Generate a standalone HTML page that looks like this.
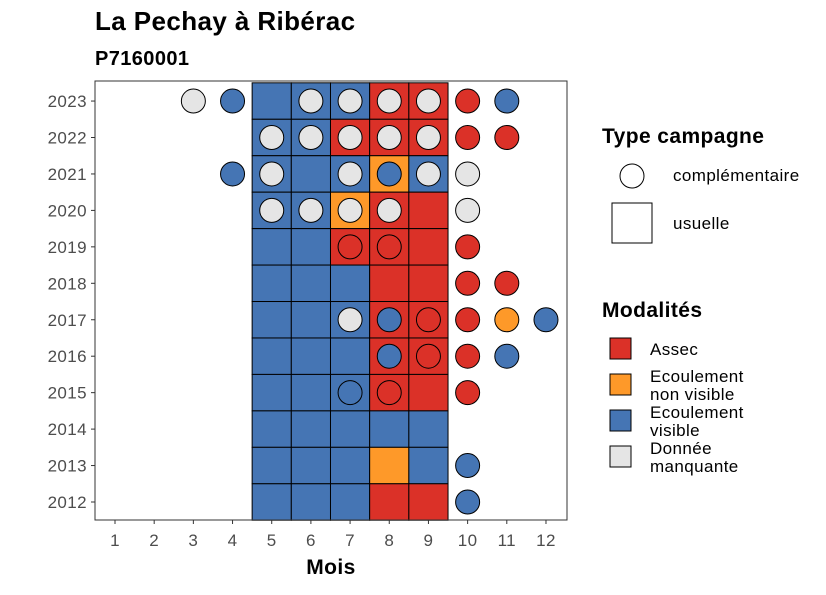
<!DOCTYPE html>
<html><head><meta charset="utf-8">
<style>
body{margin:0;background:#fff;}
svg text{font-family:"Liberation Sans",sans-serif;letter-spacing:0.4px;}
</style></head>
<body>
<svg id="chart" width="826" height="590" xmlns="http://www.w3.org/2000/svg">
<text x="95" y="30" font-size="26" font-weight="bold" fill="#000">La Pechay à Ribérac</text>
<text x="95" y="65" font-size="20" font-weight="bold" fill="#000">P7160001</text>
<g id="tiles"></g><g id="pts"></g><g id="axes"></g>
<rect x="95" y="81" width="472" height="439" fill="none" stroke="#333" stroke-width="1"/>
<text x="331" y="574" font-size="21" font-weight="bold" text-anchor="middle">Mois</text>
<g>
<text x="602" y="143" font-size="21" font-weight="bold">Type campagne</text>
<circle cx="632" cy="176" r="12" fill="#fff" stroke="#000"/>
<text x="673" y="181" font-size="17">complémentaire</text>
<rect x="612" y="203" width="40" height="40" fill="#fff" stroke="#000"/>
<text x="673" y="229" font-size="17">usuelle</text>
</g>
<g>
<text x="602" y="317" font-size="21" font-weight="bold">Modalités</text>
<rect x="610" y="338" width="21" height="21" fill="#db3128" stroke="#000"/>
<text x="650" y="355" font-size="17">Assec</text>
<rect x="610" y="374" width="21" height="21" fill="#fe9929" stroke="#000"/>
<text x="650" y="382" font-size="17">Ecoulement</text><text x="650" y="400" font-size="17">non visible</text>
<rect x="610" y="410" width="21" height="21" fill="#4575b4" stroke="#000"/>
<text x="650" y="418" font-size="17">Ecoulement</text><text x="650" y="436" font-size="17">visible</text>
<rect x="610" y="446" width="21" height="21" fill="#e5e5e5" stroke="#000"/>
<text x="650" y="454" font-size="17">Donnée</text><text x="650" y="472" font-size="17">manquante</text>
</g>
</svg>
<script>
const years=[2012,2013,2014,2015,2016,2017,2018,2019,2020,2021,2022,2023];
const months=[1,2,3,4,5,6,7,8,9,10,11,12];
const colors={A:"#db3128",N:"#fe9929",V:"#4575b4",M:"#e5e5e5"};
// usual tiles: [year, month, code]
const tileData=[
[2023,5,"V"],[2023,6,"V"],[2023,7,"V"],[2023,8,"A"],[2023,9,"A"],
[2022,5,"V"],[2022,6,"V"],[2022,7,"A"],[2022,8,"A"],[2022,9,"A"],
[2021,5,"V"],[2021,6,"V"],[2021,7,"V"],[2021,8,"N"],[2021,9,"V"],
[2020,5,"V"],[2020,6,"V"],[2020,7,"N"],[2020,8,"A"],[2020,9,"A"],
[2019,5,"V"],[2019,6,"V"],[2019,7,"A"],[2019,8,"A"],[2019,9,"A"],
[2018,5,"V"],[2018,6,"V"],[2018,7,"V"],[2018,8,"A"],[2018,9,"A"],
[2017,5,"V"],[2017,6,"V"],[2017,7,"V"],[2017,8,"A"],[2017,9,"A"],
[2016,5,"V"],[2016,6,"V"],[2016,7,"V"],[2016,8,"A"],[2016,9,"A"],
[2015,5,"V"],[2015,6,"V"],[2015,7,"V"],[2015,8,"A"],[2015,9,"A"],
[2014,5,"V"],[2014,6,"V"],[2014,7,"V"],[2014,8,"V"],[2014,9,"V"],
[2013,5,"V"],[2013,6,"V"],[2013,7,"V"],[2013,8,"N"],[2013,9,"V"],
[2012,5,"V"],[2012,6,"V"],[2012,7,"V"],[2012,8,"A"],[2012,9,"A"]];
// complementary points
const pointData=[
[2023,3,"M"],[2023,4,"V"],[2023,6,"M"],[2023,7,"M"],[2023,8,"M"],[2023,9,"M"],[2023,10,"A"],[2023,11,"V"],
[2022,5,"M"],[2022,6,"M"],[2022,7,"M"],[2022,8,"M"],[2022,9,"M"],[2022,10,"A"],[2022,11,"A"],
[2021,4,"V"],[2021,5,"M"],[2021,7,"M"],[2021,8,"V"],[2021,9,"M"],[2021,10,"M"],
[2020,5,"M"],[2020,6,"M"],[2020,7,"M"],[2020,8,"M"],[2020,10,"M"],
[2019,7,"A"],[2019,8,"A"],[2019,10,"A"],
[2018,10,"A"],[2018,11,"A"],
[2017,7,"M"],[2017,8,"V"],[2017,9,"A"],[2017,10,"A"],[2017,11,"N"],[2017,12,"V"],
[2016,8,"V"],[2016,9,"A"],[2016,10,"A"],[2016,11,"V"],
[2015,7,"V"],[2015,8,"A"],[2015,10,"A"],
[2013,10,"V"],[2012,10,"V"]];
const NS="http://www.w3.org/2000/svg";
const xs=m=>115+(m-1)*39.18, ys=y=>502-(y-2012)*36.45;
const cw=39.18, ch=36.45;
function mk(t,a,p){const e=document.createElementNS(NS,t);for(const k in a)e.setAttribute(k,a[k]);p.appendChild(e);return e;}
const gT=document.getElementById('tiles'),gP=document.getElementById('pts'),gA=document.getElementById('axes');
tileData.forEach(d=>{const r=mk('rect',{x:xs(d[1])-cw/2,y:ys(d[0])-ch/2,width:cw,height:ch,fill:colors[d[2]],stroke:"#000","stroke-width":1},gT);

});
pointData.forEach(d=>{const c=mk('circle',{cx:xs(d[1]),cy:ys(d[0]),r:12,fill:colors[d[2]],stroke:"#000","stroke-width":1},gP);

});
months.forEach(m=>{mk('line',{x1:xs(m),x2:xs(m),y1:520,y2:524,stroke:"#333"},gA);
const t=mk('text',{x:xs(m),y:546,"font-size":17,"text-anchor":"middle",fill:"#4d4d4d"},gA);t.textContent=m;

});
years.forEach(y=>{mk('line',{x1:91,x2:95,y1:ys(y),y2:ys(y),stroke:"#333"},gA);
const t=mk('text',{x:87,y:ys(y)+6,"font-size":17,"text-anchor":"end",fill:"#4d4d4d"},gA);t.textContent=y;

});
</script>
</body></html>
